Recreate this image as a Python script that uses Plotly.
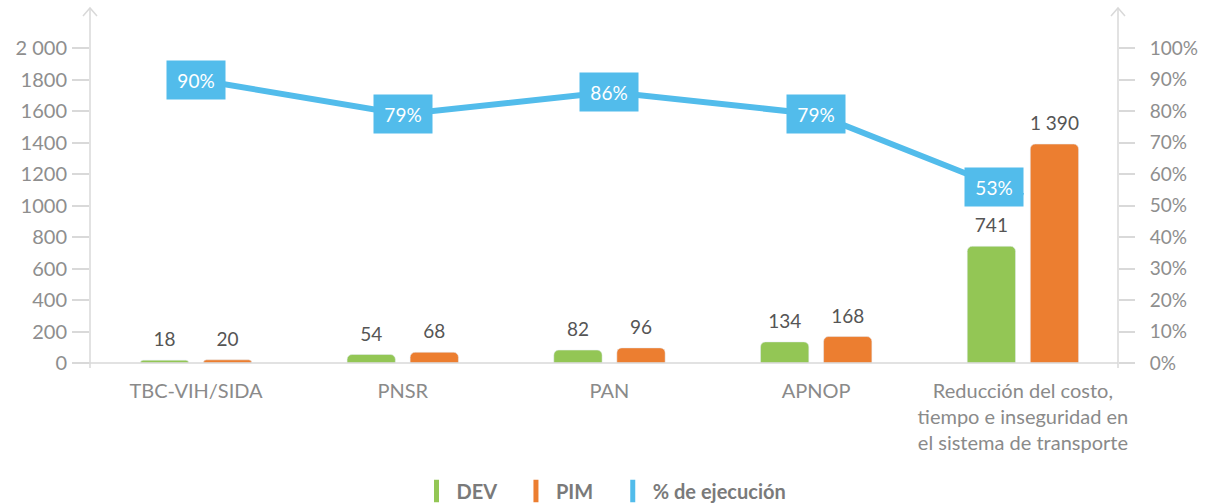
import plotly.graph_objects as go

categories = ["TBC-VIH/SIDA", "PNSR", "PAN", "APNOP",
              "Reducción del costo,<br>tiempo e inseguridad en<br>el sistema de transporte"]
dev = [18, 54, 82, 134, 741]
pim = [20, 68, 96, 168, 1390]
pct = [0.90, 0.79, 0.86, 0.79, 0.53]

left_tickvals = [0, 200, 400, 600, 800, 1000, 1200, 1400, 1600, 1800, 2000]
left_ticktext = ["0", "200", "400", "600", "800", "1000", "1200", "1400", "1600", "1800", "2 000"]
right_tickvals = [0, .1, .2, .3, .4, .5, .6, .7, .8, .9, 1.0]
right_ticktext = ["0%", "10%", "20%", "30%", "40%", "50%", "60%", "70%", "80%", "90%", "100%"]

GREEN = "#93C655"
ORANGE = "#EC7E30"
BLUE = "#52BCEB"
AXIS = "#D9D9D9"
TICKTXT = "#8E8E8E"
LABEL = "#555555"
FONT = "Lato"
NB = "\u00a0"


def fmt(v):
    return f"{v:,}".replace(",", " ")


fig = go.Figure()
for name, vals, col in [("DEV", dev, GREEN), ("PIM", pim, ORANGE)]:
    fig.add_trace(go.Bar(x=categories, y=vals, name=name, marker_color=col,
                         offsetgroup=name, alignmentgroup="g",
                         showlegend=False, hoverinfo="skip"))
    # value labels above bars
    fig.add_trace(go.Scatter(x=categories, y=vals, mode="markers+text",
                             offsetgroup=name, alignmentgroup="g",
                             text=[fmt(v) for v in vals], textposition="top center",
                             marker=dict(size=13, opacity=0),
                             textfont=dict(color=LABEL, size=19, family=FONT),
                             cliponaxis=False, showlegend=False, hoverinfo="skip"))

fig.add_trace(go.Scatter(x=categories, y=pct, yaxis="y2", mode="lines",
                         line=dict(color=BLUE, width=6), showlegend=False,
                         hoverinfo="skip"))
# legend entries (tall rectangular swatches)
for name, col in [("DEV" + NB * 3, GREEN), ("PIM" + NB * 3, ORANGE), ("% de ejecución", BLUE)]:
    fig.add_trace(go.Scatter(x=[None], y=[None], mode="markers", name=name,
                             marker=dict(symbol="line-ns", size=17,
                                         line=dict(color=col, width=11))))

# percentage labels
for i, (c, p) in enumerate(zip(categories, pct)):
    shift = dict(xshift=-29, yshift=9) if i == len(pct) - 1 else {}
    fig.add_annotation(x=c, y=p, yref="y2", text=f"{round(p*100)}%",
                       showarrow=False, bgcolor=BLUE, width=56, height=36,
                       font=dict(color="white", size=19, family=FONT), **shift)

PW, PH = 1028.0, 355.0
shapes = [
    dict(type="line", xref="paper", yref="paper", x0=0, x1=0, y0=-5/PH, y1=1,
         line=dict(color=AXIS, width=1.5)),
    dict(type="path", xref="paper", yref="paper",
         path=f"M {-7/PW} {1-8/PH} L 0 1 L {7/PW} {1-8/PH}",
         line=dict(color=AXIS, width=1.5)),
    dict(type="line", xref="paper", yref="paper", x0=1, x1=1, y0=-5/PH, y1=1,
         line=dict(color=AXIS, width=1.5)),
    dict(type="path", xref="paper", yref="paper",
         path=f"M {1-7/PW} {1-8/PH} L 1 1 L {1+7/PW} {1-8/PH}",
         line=dict(color=AXIS, width=1.5)),
    dict(type="line", xref="paper", yref="paper", x0=-5/PW, x1=1, y0=0, y1=0,
         line=dict(color=AXIS, width=1.5)),
]

fig.update_layout(
    width=1210, height=504,
    margin=dict(l=90, r=92, t=8, b=141),
    paper_bgcolor="white", plot_bgcolor="white",
    barmode="group", bargap=0.39, bargroupgap=0.234, barcornerradius=5,
    scattermode="group", scattergap=0.39,
    font=dict(family=FONT, color=TICKTXT),
    shapes=shapes,
    showlegend=True,
    legend=dict(orientation="h", x=0.5, xanchor="center",
                yref="container", y=13/504, yanchor="middle",
                font=dict(family=FONT, size=20, color="#7A7A7A", weight="bold"),
                itemwidth=30, traceorder="normal", tracegroupgap=0),
    xaxis=dict(showline=False, ticks="", showgrid=False, automargin=False,
               range=[-0.513, 4.46], ticklabelstandoff=14,
               tickfont=dict(size=20, color="#8A8A8A", family=FONT)),
    yaxis=dict(range=[0, 2000*PH/315], tickvals=left_tickvals, ticktext=left_ticktext,
               showgrid=False, zeroline=False, showline=False, automargin=False,
               ticks="outside", ticklen=17, tickcolor=AXIS, tickwidth=1.5,
               ticklabelstandoff=1,
               tickfont=dict(size=20, color=TICKTXT, family=FONT)),
    yaxis2=dict(range=[0, PH/315], tickvals=right_tickvals, ticktext=right_ticktext,
                overlaying="y", side="right", showgrid=False, zeroline=False,
                showline=False, automargin=False, ticks="outside", ticklen=16,
                tickcolor=AXIS, tickwidth=1.5, ticklabelstandoff=11,
                tickfont=dict(size=19, color=TICKTXT, family=FONT)),
)

fig.write_html("out.html", config={"displayModeBar": False},
               post_script="document.body.style.margin='0';")
